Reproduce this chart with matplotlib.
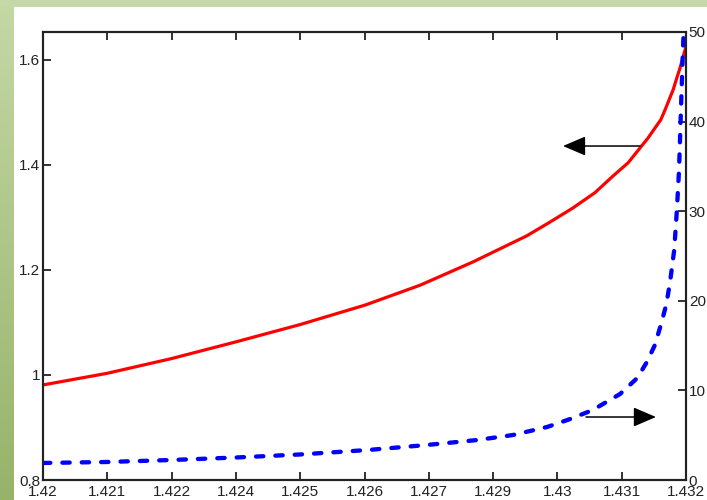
import numpy as np
from matplotlib import pyplot as plt
from matplotlib.colors import LinearSegmentedColormap

# left axis curve (red, solid)
x_red = [1.42000, 1.42119, 1.42239, 1.42360, 1.42480, 1.42601, 1.42704,
         1.42802, 1.42903, 1.42946, 1.42989, 1.43030, 1.43064, 1.43092,
         1.43114, 1.43129, 1.43142, 1.43153, 1.43161, 1.43176, 1.43183,
         1.43189, 1.43196, 1.43200]
y_red = [0.981, 1.003, 1.031, 1.063, 1.096, 1.133, 1.171,
         1.215, 1.265, 1.291, 1.318, 1.347, 1.379, 1.404,
         1.432, 1.451, 1.470, 1.486, 1.505, 1.543, 1.566,
         1.585, 1.611, 1.625]

# right axis curve (blue, dashed)
x_blue = [1.42000, 1.42119, 1.42239, 1.42360, 1.42480, 1.42607, 1.42717,
          1.42810, 1.42877, 1.42941, 1.42984, 1.43026, 1.43077, 1.43109,
          1.43127, 1.43142, 1.43153, 1.43163, 1.43170, 1.43178, 1.43183,
          1.43187, 1.43190, 1.43193, 1.43196]
y_blue = [1.90, 2.01, 2.23, 2.51, 2.85, 3.35, 3.91,
          4.46, 5.02, 5.92, 6.81, 7.81, 9.60, 11.38,
          13.17, 15.07, 17.30, 19.53, 21.99, 25.67, 30.13,
          34.60, 40.18, 45.76, 50.78]

x_ticks = np.linspace(1.42, 1.432, 11)
x_ticklabels = ['1.42', '1.421', '1.422', '1.424', '1.425', '1.426',
                '1.427', '1.429', '1.43', '1.431', '1.432']
left_ticks = [0.8, 1.0, 1.2, 1.4, 1.6]
left_ticklabels = ['0.8', '1', '1.2', '1.4', '1.6']
right_ticks = [0, 10, 20, 30, 40, 50]

plt.rcParams['font.family'] = ['Liberation Sans', 'DejaVu Sans']
plt.rcParams['font.size'] = 11

fig = plt.figure(figsize=(7.07, 5.00), dpi=100, facecolor='white')

# green frame strips
strip = fig.add_axes([0, 0, 14 / 707, 1])
grad = np.linspace(0, 1, 256).reshape(-1, 1)
cmap = LinearSegmentedColormap.from_list('g', ['#c4d8a6', '#97b36a'])
strip.imshow(grad, aspect='auto', cmap=cmap, extent=[0, 1, 0, 1])
strip.axis('off')
top = fig.add_axes([0, 493 / 500, 1, 7 / 500])
top.set_facecolor('#c5d9a8')
top.set_xticks([])
top.set_yticks([])
for s in top.spines.values():
    s.set_visible(False)

ax = fig.add_axes([43 / 707, 20 / 500, 643 / 707, 448 / 500])
ax.plot(x_red, y_red, color='#ff0000', lw=2.3, solid_capstyle='round',
        solid_joinstyle='round')
ax.set_xlim(1.42, 1.432)
ax.set_ylim(0.8, 1.653)
ax.set_xticks(x_ticks)
ax.set_xticklabels(x_ticklabels)
ax.set_yticks(left_ticks)
ax.set_yticklabels(left_ticklabels)
ax.tick_params(axis='x', direction='in', top=True, length=6, width=1.3,
               pad=3.5, colors='#222222')
ax.tick_params(axis='y', direction='in', length=6, width=1.3, pad=2,
               colors='#222222')
for s in ax.spines.values():
    s.set_linewidth(1.5)
    s.set_color('#222222')

ax2 = ax.twinx()
ax2.plot(x_blue, y_blue, color='#0000ff', lw=3.1, linestyle=(0, (1.7, 2.8)),
         dash_capstyle='round')
ax2.set_ylim(0, 50)
ax2.set_yticks(right_ticks)
ax2.tick_params(axis='y', direction='in', length=6, width=1.3, pad=2,
                colors='#222222')
for s in ax2.spines.values():
    s.set_linewidth(1.5)
    s.set_color('#222222')

# arrows pointing at the axis each curve belongs to
arrow = dict(arrowstyle='-|>,head_length=1.4,head_width=0.6',
             mutation_scale=10, color='black', lw=1.1,
             shrinkA=0, shrinkB=0)
ax2.annotate('', xy=(0.8087, 0.7455), xytext=(0.9285, 0.7455),
             xycoords='axes fraction', arrowprops=arrow)
ax2.annotate('', xy=(0.9533, 0.1406), xytext=(0.8445, 0.1406),
             xycoords='axes fraction', arrowprops=arrow)

plt.savefig('out.png', dpi=100, facecolor='white')
